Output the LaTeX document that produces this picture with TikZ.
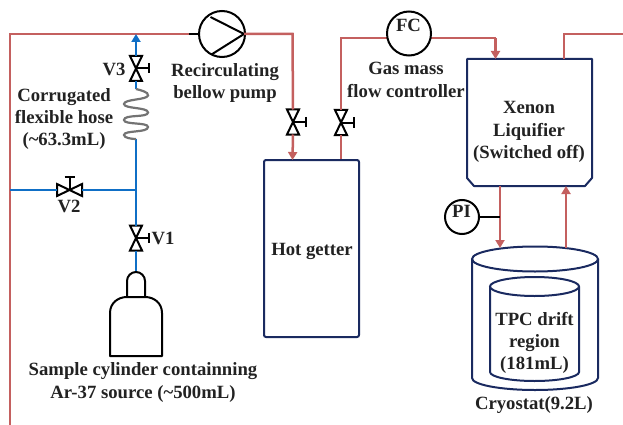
\documentclass[tikz,border=0pt]{standalone}
\usepackage{fontspec}
\setmainfont{Liberation Serif}
\usetikzlibrary{arrows.meta}
\definecolor{pipered}{HTML}{C4605F}
\definecolor{pipeblue}{HTML}{0F6FC6}
\definecolor{navy}{HTML}{1A2A60}
\definecolor{txt}{HTML}{222222}
\tikzset{
  redpipe/.style={draw=pipered,line width=2.5pt},
  bluepipe/.style={draw=pipeblue,line width=2.7pt},
  redarrow/.style={redpipe,-{Triangle[length=8pt,width=9pt]}},
  bluearrow/.style={bluepipe,-{Triangle[length=8pt,width=9pt]}},
  sym/.style={draw=black,line width=2pt},
  vessel/.style={draw=navy,line width=2pt},
  lbl/.style={text=txt,font=\bfseries\fontsize{18.7}{22.4}\selectfont,align=center,inner sep=0pt},
  instr/.style={circle,draw=black,line width=2pt,fill=white,inner sep=0pt},
  pics/valvev/.style={code={
    \draw[sym,fill=white,line join=miter] (-6,-12.5)--(6,-12.5)--(-6,12.5)--(6,12.5)--cycle;
    \draw[sym] (0,0)--(13,0) (13,-5)--(13,5);
    \coordinate (-top) at (0,-12.5);
    \coordinate (-bot) at (0,12.5);
  }},
  pics/valveh/.style={code={
    \draw[sym,fill=white,line join=miter] (-12.5,-6)--(-12.5,6)--(12.5,-6)--(12.5,6)--cycle;
    \draw[sym] (0,0)--(0,-13) (-5,-13)--(5,-13);
    \coordinate (-left) at (-12.5,0);
    \coordinate (-right) at (12.5,0);
  }},
}
\begin{document}
\begin{tikzpicture}[x=1pt,y=-1pt]
\useasboundingbox (0,0) rectangle (623,425);
% anchors
\coordinate (leftbot) at (10,425);
\coordinate (topleft) at (10,34);
\coordinate (junctop) at (136,34);
\coordinate (v2left) at (10,190);
\coordinate (junc) at (136,190);
\coordinate (hosetop) at (136,89);
\coordinate (hosebot) at (136,139);
\coordinate (pumpin) at (189,34);
\coordinate (pumpout) at (244,34);
\coordinate (pumpcorner) at (292.5,34);
\coordinate (fccornerl) at (341,38);
\coordinate (fccornerr) at (495.5,38);
\coordinate (fcl) at (388,38);
\coordinate (fcr) at (430,38);
\coordinate (xeoutc) at (564,34);
\coordinate (xeoutr) at (623,34);
\coordinate (pipoint) at (500,217);
% pipes
\draw[redpipe] (leftbot) -- (topleft) -- (pumpin);
% valves
\path (136,68.5) pic (v3) {valvev};
\path (136,238) pic (v1) {valvev};
\path (69.5,190) pic (v2) {valveh};
\path (293,122) pic (vg1) {valvev};
\path (341,122.5) pic (vg2) {valvev};
% connectors under the instruments
\draw[redpipe] (vg2-top) -- (fccornerl) -- (fcl);
\draw[redpipe] (fcr) -- (fccornerr);
% nodes
\node[instr,minimum size=46pt] (pump) at (222,34) {};
\draw[sym] (pumpin) -- (pump.west);
\draw[sym] (pumpout) -- (210.5,17) (pumpout) -- (211.5,54.5);
\node[instr,minimum size=44pt] (fc) at (409,33.5) {};
\node[lbl] (fct) at (408.5,25) {FC};
\node[instr,minimum size=34pt] (pi) at (462,217) {};
\node[lbl] (pit) at (461.5,211) {PI};
\node[draw=navy,line width=2pt,rounded corners=2pt,minimum width=95pt,minimum height=177pt,inner sep=0pt] (getter) at (311.5,248.5) {};
\coordinate (xetopin) at (495.5,59);
\coordinate (xetopout) at (564,59);
\coordinate (xebotout) at (500,186);
\coordinate (xebotin) at (566,186);
\draw[vessel,line join=round] (467,59) -- (592,59) -- (592,178) -- (585,186) -- (474,186) -- (467,178) -- cycle;
% cryostat
\coordinate (crtopl) at (500,248);
\coordinate (crtopr) at (566,248);
\draw[vessel] (472,259) -- (472,378) arc[start angle=180,end angle=0,x radius=63,y radius=12] -- (598,259);
\draw[vessel] (535,259) ellipse[x radius=63,y radius=12.5];
\draw[vessel] (490,286.5) -- (490,372) arc[start angle=180,end angle=0,x radius=44.5,y radius=9] -- (579,286.5);
\draw[vessel] (534.5,286.5) ellipse[x radius=44.5,y radius=9.5];
% connectors
\draw[bluepipe] (v2left) -- (v2-left);
\draw[bluepipe] (v2-right) -- (junc);
\draw[bluepipe] (v1-top) -- (hosebot);
\draw[bluepipe] (hosetop) -- (v3-bot);
\draw[bluearrow] (v3-top) -- (junctop);
\draw[draw=black!55,line width=2.2pt] (hosetop) .. controls (140,90) and (149,92) .. (148,95.5)
  .. controls (147,100) and (124,99) .. (124,104)
  .. controls (124,109) and (148,107) .. (148,112.5)
  .. controls (148,118) and (124,114) .. (124,120)
  .. controls (124,125) and (148,122) .. (148,127)
  .. controls (148,133) and (124,130) .. (124,135)
  .. controls (124,138) and (132,139) .. (hosebot);
\draw[redpipe] (pumpout) -- (pumpcorner) -- (vg1-top);
\draw[redarrow] (vg1-bot) -- (292.5,160);
\draw[redpipe] (getter.north -| vg2-bot) -- (vg2-bot);
\draw[redarrow] (fccornerr) -- (xetopin);
\draw[redpipe] (xetopout) -- (xeoutc) -- (xeoutr);
\draw[redarrow] (xebotout) -- (crtopl);
\draw[redarrow] (crtopr) -- (xebotin);
\draw[draw=black,line width=1.4pt] (pi.east) -- (pipoint);
% cylinder
\coordinate (cyltop) at (136,272);
\draw[bluepipe] (v1-bot) -- (cyltop);
\draw[sym,line join=round] (127,297) -- (127,281) arc[start angle=180,end angle=360,radius=9] -- (145,297);
\draw[sym,line join=round] (110,356) -- (110,313) .. controls (110,303) and (118,297) .. (127,297) -- (145,297) .. controls (154,297) and (162,303) .. (162,313) -- (162,356) -- cycle;
% labels
\node[lbl] (lv3) at (114,69) {V3};
\node[lbl] (lv2) at (69,206) {V2};
\node[lbl] (lv1) at (163,238) {V1};
\node[lbl] (lhose) at (64,119) {Corrugated\\flexible hose\\(\textasciitilde63.3mL)};
\node[lbl] (lpump) at (225,83) {Recirculating\\bellow pump};
\node[lbl] (lfc) at (406,80) {Gas mass\\flow controller};
\node[lbl] (lxe) at (529,132) {Xenon\\Liquifier\\(Switched off)};
\node[lbl] (lget) at (312,251.5) {Hot getter};
\node[lbl] (ltpc) at (534.5,343) {TPC drift\\region\\(181mL)};
\node[lbl] (lcry) at (534,405) {Cryostat(9.2L)};
\node[lbl] (lcyl) at (143,382.5) {Sample cylinder containning\\Ar-37 source (\textasciitilde500mL)};
\end{tikzpicture}
\end{document}
